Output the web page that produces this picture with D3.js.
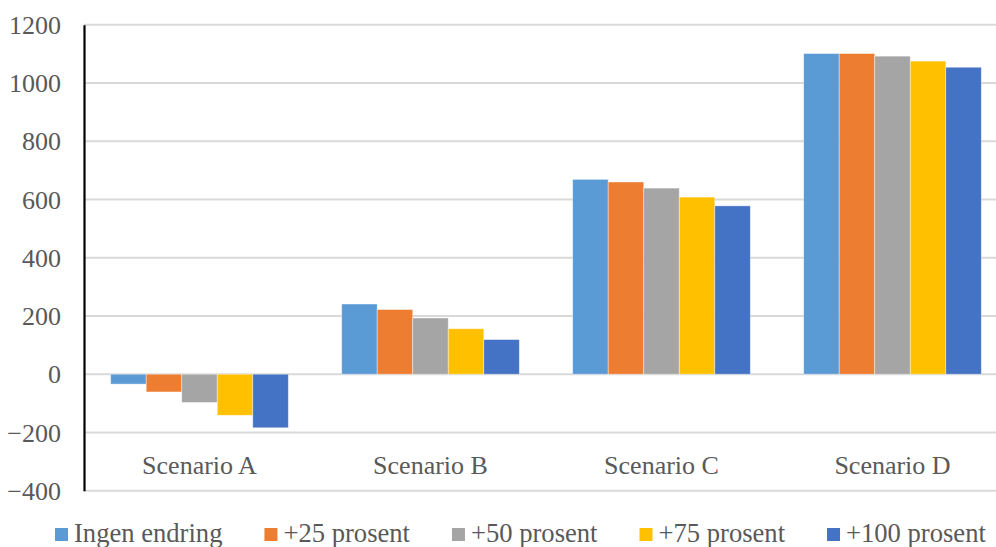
<!DOCTYPE html>
<html><head><meta charset="utf-8">
<script src="https://cdn.jsdelivr.net/npm/d3@7"></script>
<style>body{margin:0;background:#fff}svg{display:block}</style>
</head><body>
<svg id="c" width="996" height="547"></svg>
<script>
const categories = ["Scenario A","Scenario B","Scenario C","Scenario D"];
const seriesNames = ["Ingen endring","+25 prosent","+50 prosent","+75 prosent","+100 prosent"];
const colors = ["#5B9BD5","#ED7D31","#A5A5A5","#FFC000","#4472C4"];
const ingenEndring = [-34, 241, 669, 1101];
const pluss25 = [-61, 222, 660, 1101];
const pluss50 = [-97, 193, 639, 1092];
const pluss75 = [-141, 156, 608, 1075];
const pluss100 = [-184, 119, 578, 1054];
const yTicks = [-400,-200,0,200,400,600,800,1000,1200];

const series = [ingenEndring, pluss25, pluss50, pluss75, pluss100];
const svg = d3.select("#c");
const font = "'Liberation Serif','Times New Roman',serif";
const x0 = d3.scaleBand().domain(categories).range([84,1008]).paddingInner(0.231).paddingOuter(0.1155);
const x1 = d3.scaleBand().domain(d3.range(series.length)).range([0,x0.bandwidth()]);
const y = d3.scaleLinear().domain([-400,1200]).range([490.7,24.7]);

// gridlines
svg.append("g").selectAll("line").data(yTicks).join("line")
  .attr("x1",84).attr("x2",996).attr("y1",d=>y(d)).attr("y2",d=>y(d))
  .attr("stroke","#d9d9d9").attr("stroke-width",2);

// bars
const g = svg.append("g");
categories.forEach((c,ci)=>{
  series.forEach((s,si)=>{
    const v = s[ci];
    g.append("rect")
      .attr("x", x0(c)+x1(si)).attr("width", x1.bandwidth())
      .attr("y", y(Math.max(0,v))).attr("height", Math.abs(y(v)-y(0)))
      .attr("fill", colors[si]).attr("stroke","#ffffff").attr("stroke-opacity",0.5).attr("stroke-width",0.8);
  });
});

// y axis
const yAxis = d3.axisLeft(y).tickValues(yTicks).tickFormat(d3.format("d")).tickSize(0).tickPadding(23);
const ya = svg.append("g").attr("transform","translate(84,0)").call(yAxis);
ya.select(".domain").attr("stroke","#000").attr("stroke-width",2.2);
ya.selectAll("text").attr("font-family",font).attr("font-size",26).attr("fill","#595959").attr("dy","0.33em");

// category labels
const xAxis = d3.axisBottom(x0).tickSize(0);
const xa = svg.append("g").attr("transform","translate(0,"+y(0)+")").call(xAxis);
xa.select(".domain").remove();
xa.selectAll("text").attr("font-family",font).attr("font-size",26).attr("fill","#595959")
  .attr("y", 0).attr("dy", 0).attr("transform","translate(0,100)");

// legend
const leg = svg.append("g");
let lx = 55;
seriesNames.forEach((n,i)=>{
  leg.append("rect").attr("x",lx).attr("y",528).attr("width",13).attr("height",13).attr("fill",colors[i]);
  const t = leg.append("text").attr("x",lx+19).attr("y",541.5).attr("font-family",font).attr("font-size",26.6)
    .attr("fill","#595959").text(n);
  lx += 19 + t.node().getComputedTextLength() + 42;
});
</script>
</body></html>
